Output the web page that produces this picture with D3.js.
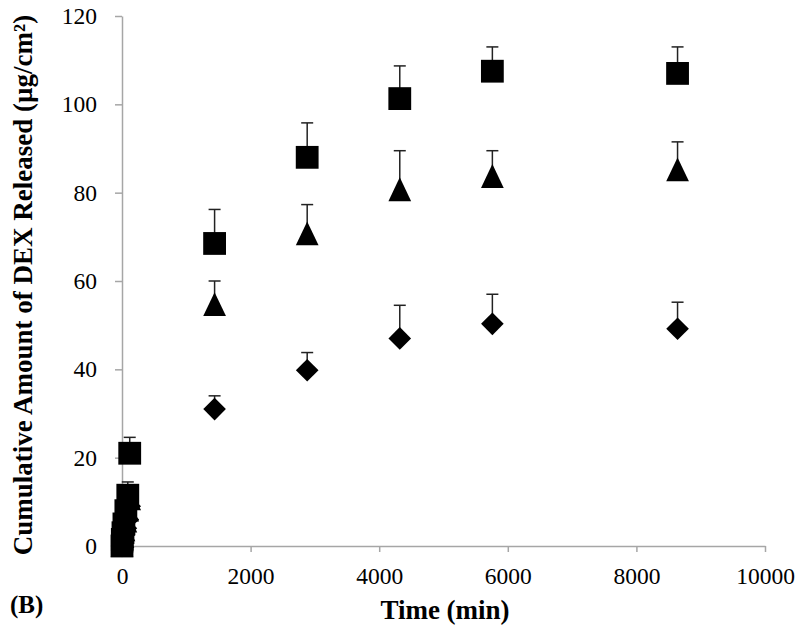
<!DOCTYPE html>
<html>
<head>
<meta charset="utf-8">
<script src="https://cdn.jsdelivr.net/npm/d3@7"></script>
<style>
  body { margin: 0; background: #fff; }
  text { font-family: "Liberation Serif", "Times New Roman", serif; }
</style>
</head>
<body>
<div id="chart"></div>
<script>
// time points (min)
var times = [0, 5, 15, 30, 60, 90, 120, 1440, 2880, 4320, 5760, 8640];

// cumulative DEX released (ug/cm2), mean and SD per formulation
var squareVals = [0, 1.5, 3, 5, 8, 11.5, 21, 68.5, 88, 101.3, 107.5, 107];
var squareErr  = [0, 0.5, 1, 1, 1.5, 3, 3.6, 7.7, 7.8, 7.4, 5.5, 6];
var triVals    = [0, 1, 2, 3.5, 5.5, 8, 10.5, 54.5, 70.5, 80.5, 83.5, 85];
var triErr     = [0, 0.4, 0.6, 0.8, 1, 1.2, 1.5, 5.5, 6.8, 9, 6, 6.5];
var diaVals    = [0, 0.8, 1.5, 2.5, 4, 6, 9, 31, 39.8, 47, 50.3, 49.2];
var diaErr     = [0, 0.3, 0.5, 0.6, 0.8, 1, 1.2, 3, 4, 7.5, 6.7, 6];

var xTicks = [0, 2000, 4000, 6000, 8000, 10000];
var yTicks = [0, 20, 40, 60, 80, 100, 120];

var W = 800, H = 632;
var margin = {left: 122, right: 35, top: 16, bottom: 86};

var svg = d3.select("#chart").append("svg")
    .attr("width", W).attr("height", H);

var x = d3.scaleLinear().domain([0, 10000]).range([margin.left, W - margin.right]);
var y = d3.scaleLinear().domain([0, 120]).range([H - margin.bottom, margin.top]);

// axes
var xAxis = svg.append("g")
    .attr("transform", "translate(0," + y(0) + ")")
    .call(d3.axisBottom(x).tickValues(xTicks).tickFormat(d3.format("d"))
      .tickSize(6).tickPadding(15).tickSizeOuter(0));
var yAxis = svg.append("g")
    .attr("transform", "translate(" + x(0) + ",0)")
    .call(d3.axisLeft(y).tickValues(yTicks).tickFormat(d3.format("d"))
      .tickSize(7).tickPadding(18).tickSizeOuter(0));

[xAxis, yAxis].forEach(function(a){
  a.attr("font-family", null).attr("font-size", null);
  a.select(".domain").attr("stroke", "#a6a6a6").attr("stroke-width", 1.5);
  a.selectAll(".tick line").attr("stroke", "#a6a6a6").attr("stroke-width", 1.5);
  a.selectAll(".tick text").attr("font-size", 23.5).attr("fill", "#000")
    .style("font-family", "'Liberation Serif', serif");
});

// taller-than-wide triangle like the original marker
var tallTriangle = {
  draw: function(ctx, size){
    var w = Math.sqrt(size) * 0.96, h = w * 1.05;
    ctx.moveTo(0, -h * 0.55);
    ctx.lineTo(w / 2, h * 0.45);
    ctx.lineTo(-w / 2, h * 0.45);
    ctx.closePath();
  }
};

var series = [
  {vals: diaVals, err: diaErr, sym: d3.symbolSquare, size: 256, rot: 45},
  {vals: triVals, err: triErr, sym: tallTriangle, size: 560, rot: 0},
  {vals: squareVals, err: squareErr, sym: d3.symbolSquare, size: 520, rot: 0}
];

series.forEach(function(s){
  var pts = times.map(function(t, i){ return {t: t, v: s.vals[i], e: s.err[i]}; });

  var eb = svg.append("g").selectAll("g").data(pts.filter(function(d){ return d.e > 0; }))
    .enter().append("g");
  eb.append("line")
    .attr("x1", function(d){ return x(d.t); })
    .attr("x2", function(d){ return x(d.t); })
    .attr("y1", function(d){ return y(d.v); })
    .attr("y2", function(d){ return y(d.v + d.e); })
    .attr("stroke", "#222").attr("stroke-width", 1.5);
  eb.append("line")
    .attr("x1", function(d){ return x(d.t) - 6; })
    .attr("x2", function(d){ return x(d.t) + 6; })
    .attr("y1", function(d){ return y(d.v + d.e); })
    .attr("y2", function(d){ return y(d.v + d.e); })
    .attr("stroke", "#222").attr("stroke-width", 1.5);

  svg.append("g").selectAll("path").data(pts).enter().append("path")
    .attr("d", d3.symbol().type(s.sym).size(s.size))
    .attr("transform", function(d){
      return "translate(" + x(d.t) + "," + y(d.v) + ") rotate(" + s.rot + ")";
    })
    .attr("fill", "#000");
});

// labels
svg.append("text")
  .attr("x", 445).attr("y", 619)
  .attr("text-anchor", "middle").attr("font-size", 27).attr("font-weight", "bold")
  .text("Time (min)");

svg.append("text")
  .attr("x", 10).attr("y", 613)
  .attr("font-size", 25).attr("font-weight", "bold")
  .text("(B)");

svg.append("text")
  .attr("transform", "translate(32," + 285 + ") rotate(-90)")
  .attr("text-anchor", "middle").attr("font-size", 27).attr("font-weight", "bold")
  .text("Cumulative Amount of DEX Released (µg/cm²)");
</script>
</body>
</html>
